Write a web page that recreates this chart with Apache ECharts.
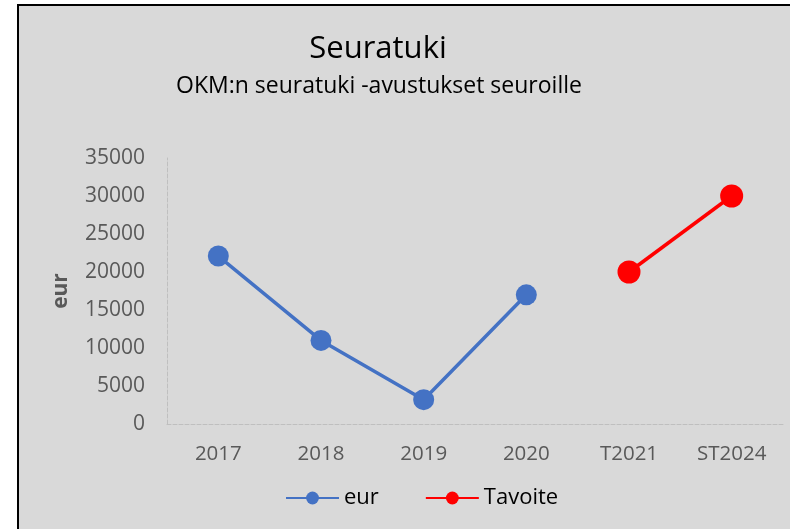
<!DOCTYPE html>
<html><head><meta charset="utf-8">
<script src="https://cdn.jsdelivr.net/npm/echarts@6/dist/echarts.min.js"></script>
<style>html,body{margin:0;padding:0;background:#fff}#c{width:790px;height:529px}</style>
</head><body><div id="c"></div>
<script>
const categories = ['2017','2018','2019','2020','T2021','ST2024'];
const eurValues = [22100, 11000, 3200, 17000, null, null];
const targetValues = [null, null, null, null, 20000, 30000];
const yTicks = {min: 0, max: 35000, interval: 5000};

const chart = echarts.init(document.getElementById('c'));
const font = '"Open Sans", "Noto Sans", sans-serif';
chart.setOption({
  backgroundColor: '#ffffff',
  animation: false,
  graphic: [{
    type: 'rect', z: -10, silent: true,
    shape: {x: 18, y: 5, width: 800, height: 600},
    style: {fill: '#d9d9d9', stroke: '#000', lineWidth: 2}
  }],
  title: [{
    text: 'Seuratuki',
    left: 373, top: 29, textAlign: 'center',
    textStyle: {fontFamily: font, fontSize: 31, fontWeight: 'normal', color: '#000'}
  }, {
    text: 'OKM:n seuratuki -avustukset seuroille',
    left: 374, top: 70, textAlign: 'center',
    textStyle: {fontFamily: font, fontSize: 23, fontWeight: 'normal', color: '#000'}
  }],
  legend: {
    left: 280, top: 482, itemWidth: 53, itemHeight: 16, itemGap: 46,
    textStyle: {fontFamily: font, fontSize: 22, color: '#000'},
    data: ['eur', 'Tavoite']
  },
  grid: {left: 167, right: 7, top: 158, bottom: 105, containLabel: false},
  xAxis: {
    type: 'category', data: categories, boundaryGap: true,
    axisLine: {lineStyle: {color: '#bfbfbf', type: 'dashed', width: 1}},
    axisTick: {show: false},
    axisLabel: {fontFamily: font, fontSize: 20.5, color: '#595959', margin: 20}
  },
  yAxis: {
    type: 'value', min: yTicks.min, max: yTicks.max, interval: yTicks.interval,
    name: 'eur', nameLocation: 'middle', nameGap: 95, nameRotate: 90,
    nameTextStyle: {fontFamily: font, fontSize: 21, fontWeight: 'bold', color: '#595959'},
    axisLine: {show: true, lineStyle: {color: '#bfbfbf', type: 'dashed', width: 1}},
    axisTick: {show: false},
    splitLine: {show: false},
    axisLabel: {fontFamily: font, fontSize: 21, color: '#595959', margin: 22,
                formatter: v => String(v)}
  },
  series: [
    {name: 'eur', type: 'line', data: eurValues, symbol: 'circle', symbolSize: 21,
     connectNulls: false,
     itemStyle: {color: '#4472c4'}, lineStyle: {color: '#4472c4', width: 3.5}},
    {name: 'Tavoite', type: 'line', data: targetValues, symbol: 'circle', symbolSize: 23,
     itemStyle: {color: '#ff0000'}, lineStyle: {color: '#ff0000', width: 3.5}}
  ]
});
</script></body></html>
